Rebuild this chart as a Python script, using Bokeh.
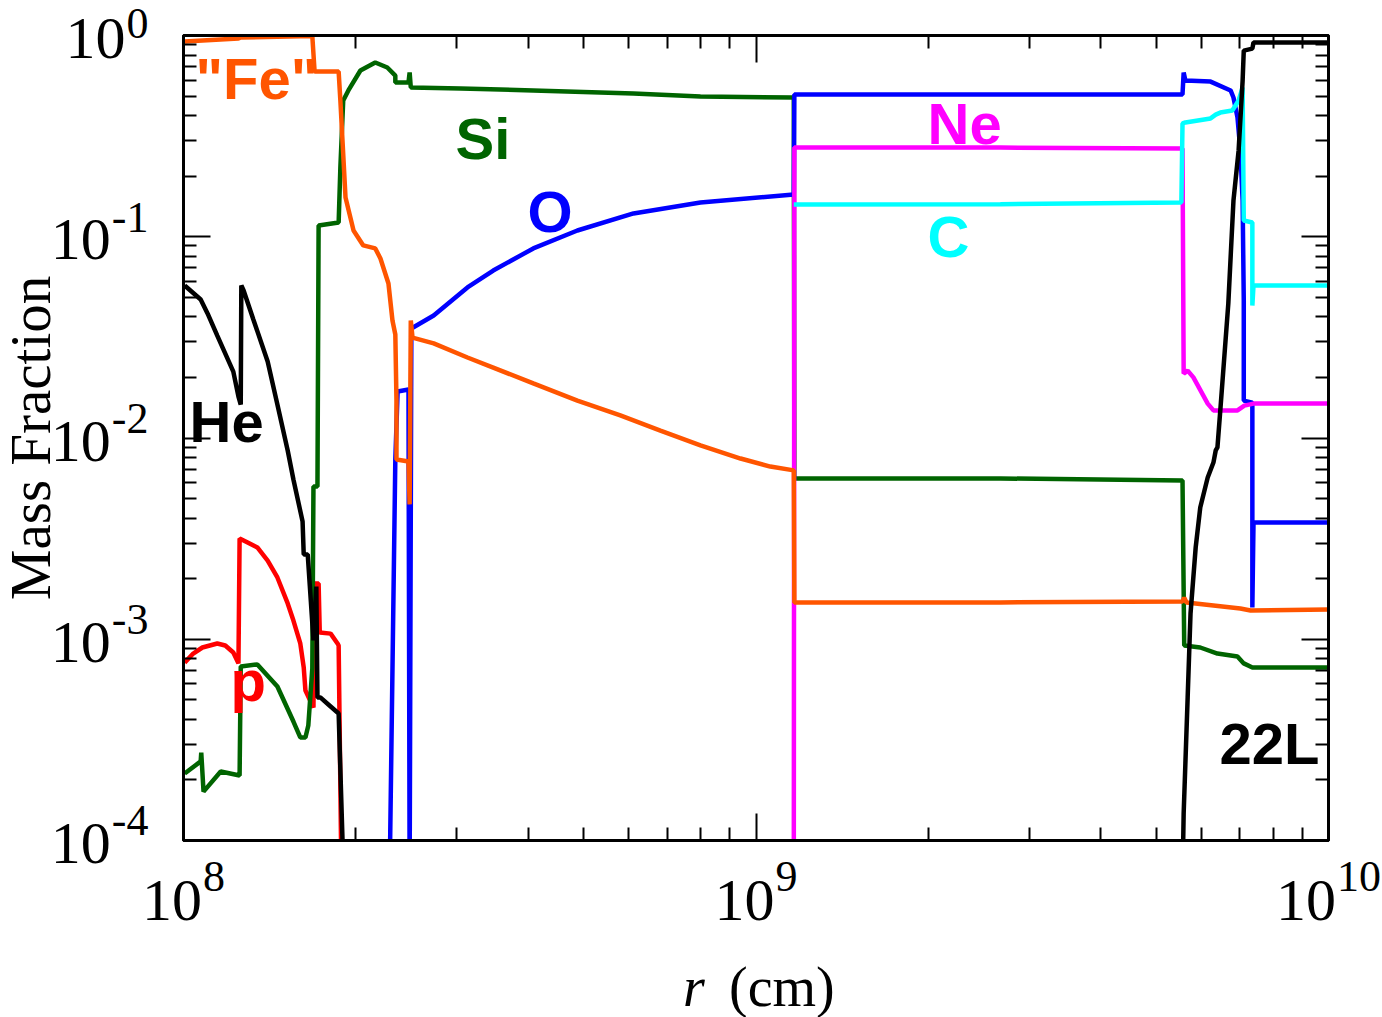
import math
import numpy as np
from bokeh.plotting import figure
from bokeh.models import Range1d, FixedTicker, LogAxis, Label, CustomJSTickFormatter
from bokeh.core.properties import value
from bokeh.embed import file_html
from bokeh.resources import INLINE

nan = float("nan")

# Composition profile: log10 of radius (cm) and log10 of mass fraction per species
he_log_r = [8.002, 8.030, 8.042, 8.059, 8.087, 8.096, 8.100, 8.101, 8.105, 8.122, 8.147,
            8.164, 8.182, 8.192, 8.208, 8.210, 8.217, 8.227, 8.232, 8.234, 8.239, 8.253,
            8.271, 8.281, nan, 9.745, 9.747, 9.754, 9.759, 9.768, 9.776, 9.789, 9.799,
            9.803, 9.806, 9.811, 9.825, 9.834, 9.843, 9.850, 9.852, 9.867, 9.869, 10.000]
he_log_x = [-1.242, -1.312, -1.381, -1.491, -1.670, -1.794, -1.834, -1.242, -1.267, -1.411,
            -1.620, -1.834, -2.062, -2.206, -2.415, -2.579, -2.579, -3.006, -2.738, -3.289,
            -3.289, -3.324, -3.369, -4.3, nan, -4.2, -3.866, -3.289, -2.872, -2.544, -2.345,
            -2.196, -2.122, -2.062, -2.047, -1.863, -1.332, -0.820, -0.571, -0.224, -0.075,
            -0.065, -0.035, -0.035]

p_log_r = [8.002, 8.017, 8.033, 8.059, 8.073, 8.087, 8.096, 8.098, 8.112, 8.129, 8.147,
           8.164, 8.182, 8.192, 8.204, 8.210, 8.213, 8.227, 8.229, 8.236, 8.238, 8.257,
           8.269, 8.271, 8.276]
p_log_x = [-3.116, -3.071, -3.041, -3.021, -3.031, -3.066, -3.120, -2.499, -2.519, -2.544,
           -2.609, -2.693, -2.822, -2.907, -3.021, -3.140, -3.255, -3.339, -2.723, -2.723,
           -2.966, -2.972, -3.021, -3.031, -4.2]

fe_log_r = [8.002, 8.096, 8.100, 8.225, 8.229, 8.271, 8.274, 8.278, 8.283, 8.297, 8.314,
            8.335, 8.344, 8.358, 8.365, 8.370, 8.372, 8.372, 8.393, 8.395, 8.397, 8.400,
            8.437, 8.496, 8.541, 8.611, 8.688, 8.763, 8.833, 8.903, 8.973, 9.025, 9.066,
            9.067, 9.427, 9.745, 9.748, 9.752, 9.846, 9.864, 10.000]
fe_log_x = [-0.030, -0.015, -0.010, -0.003, -0.179, -0.179, -0.323, -0.537, -0.805, -0.969,
            -1.043, -1.058, -1.108, -1.232, -1.416, -1.486, -1.814, -2.107, -2.117, -2.330,
            -1.416, -1.501, -1.530, -1.600, -1.650, -1.729, -1.814, -1.888, -1.963, -2.037,
            -2.102, -2.142, -2.161, -2.817, -2.817, -2.812, -2.793, -2.817, -2.847, -2.857,
            -2.852]

si_log_r = [8.002, 8.030, 8.031, 8.035, 8.065, 8.098, 8.100, 8.129, 8.164, 8.192, 8.204,
            8.213, 8.218, 8.225, 8.227, 8.234, 8.236, 8.271, 8.274, 8.279, 8.288, 8.309,
            8.335, 8.356, 8.370, 8.370, 8.393, 8.395, 8.397, 8.484, 8.611, 8.786, 8.903,
            9.066, 9.067, 9.427, 9.745, 9.748, 9.776, 9.806, 9.841, 9.852, 9.867, 10.000]
si_log_x = [-3.667, -3.607, -3.563, -3.757, -3.657, -3.677, -3.135, -3.125, -3.235, -3.409,
            -3.488, -3.488, -3.429, -3.145, -2.241, -2.241, -0.944, -0.929, -0.656, -0.323,
            -0.273, -0.174, -0.134, -0.159, -0.199, -0.234, -0.234, -0.184, -0.258, -0.263,
            -0.273, -0.288, -0.303, -0.308, -2.201, -2.201, -2.211, -3.031, -3.041, -3.071,
            -3.086, -3.120, -3.140, -3.140]

o_log_r = [8.360, 8.370, 8.374, 8.393, 8.395, 8.398, 8.437, 8.496, 8.541, 8.611, 8.688,
           8.786, 8.903, 9.066, 9.067, 9.745, 9.747, 9.750, 9.794, 9.829, 9.834, 9.841,
           9.846, 9.850, 9.852, 9.852, 9.867, 9.867, 9.869, 10.000]
o_log_x = [-4.2, -2.107, -1.769, -1.759, -4.2, -1.456, -1.391, -1.252, -1.168, -1.058,
           -0.969, -0.884, -0.830, -0.790, -0.293, -0.293, -0.184, -0.224, -0.229, -0.273,
           -0.308, -0.407, -0.571, -0.820, -1.317, -1.814, -1.824, -2.842, -2.420, -2.420]

ne_log_r = [9.066, 9.067, 9.427, 9.745, 9.747, 9.754, 9.764, 9.789, 9.799, 9.841, 9.853,
            9.869, 10.000]
ne_log_x = [-4.2, -0.557, -0.557, -0.561, -1.680, -1.665, -1.699, -1.829, -1.863, -1.863,
            -1.839, -1.829, -1.829]

c_log_r = [9.066, 9.427, 9.743, 9.745, 9.750, 9.794, 9.803, 9.811, 9.832, 9.843, 9.850,
           9.852, 9.867, 9.867, 9.869, 10.000]
c_log_x = [-0.840, -0.838, -0.830, -0.437, -0.432, -0.412, -0.393, -0.383, -0.373, -0.323,
           -0.258, -0.919, -0.929, -1.342, -1.242, -1.242]

x_tick_exponents = [8, 9, 10]
y_tick_exponents = [0, -1, -2, -3, -4]

FE, SI, O, NE, C, P, BLACK = "#FF5500", "#006400", "#0000FF", "#FF00FF", "#00FFFF", "#FF0000", "#000000"

W, H = 1382, 1017
BL, BR, BT, BB = 183, 54, 35, 177          # borders around the frame
FW, FH = W - BL - BR, H - BT - BB          # frame size in pixels
LOG_X0, LOG_X1 = 8, 10
LOG_Y0, LOG_Y1 = -4, 0

p = figure(width=W, height=H, x_axis_type="log", y_axis_type="log",
           x_range=Range1d(10.0 ** LOG_X0, 10.0 ** LOG_X1),
           y_range=Range1d(10.0 ** LOG_Y0, 10.0 ** LOG_Y1),
           output_backend="svg", toolbar_location=None,
           min_border_left=BL, min_border_right=BR, min_border_top=BT, min_border_bottom=BB)
p.grid.visible = False
p.background_fill_color = "white"
p.border_fill_color = "white"
p.outline_line_color = "black"
p.outline_line_width = 3

p.add_layout(LogAxis(), "above")
p.add_layout(LogAxis(), "right")

x_major = [10.0 ** e for e in range(LOG_X0, LOG_X1 + 1)]
x_minor = [m * 10.0 ** e for e in range(LOG_X0, LOG_X1) for m in range(2, 10)]
y_major = [10.0 ** e for e in range(LOG_Y0, LOG_Y1 + 1)]
y_minor = [m * 10.0 ** e for e in range(LOG_Y0, LOG_Y1) for m in range(2, 10)]
blank = CustomJSTickFormatter(code="return ''")

for ax in p.xaxis:
    ax.ticker = FixedTicker(ticks=x_major, minor_ticks=x_minor)
for ax in p.yaxis:
    ax.ticker = FixedTicker(ticks=y_major, minor_ticks=y_minor)
for ax in p.xaxis + p.yaxis:
    ax.formatter = blank
    ax.major_tick_in = 27
    ax.major_tick_out = 0
    ax.minor_tick_in = 13
    ax.minor_tick_out = 0
    ax.major_tick_line_width = 2
    ax.minor_tick_line_width = 2
    ax.major_tick_line_color = "black"
    ax.minor_tick_line_color = "black"
    ax.axis_line_width = 3
    ax.axis_line_color = "black"
    ax.major_label_standoff = 0


def curve(log_r, log_x, color):
    r = 10.0 ** np.asarray(log_r, dtype=float)
    x = 10.0 ** np.asarray(log_x, dtype=float)
    p.line(r, x, line_color=color, line_width=4.5)


curve(p_log_r, p_log_x, P)
curve(si_log_r, si_log_x, SI)
curve(o_log_r, o_log_x, O)
curve(ne_log_r, ne_log_x, NE)
curve(c_log_r, c_log_x, C)
curve(fe_log_r, fe_log_x, FE)
curve(he_log_r, he_log_x, BLACK)

DROP = 0.38      # baseline correction, as a fraction of the font size
ASCENT = 0.891   # serif font ascent, as a fraction of the font size


def put(text, sx, sy, size, font, color="black", align="left", style="normal"):
    """Text inside the frame, in screen units from the frame's lower-left corner."""
    p.add_layout(Label(x=sx, y=sy + DROP * size, x_units="screen", y_units="screen",
                       text=text, text_font=font, text_font_size=f"{size}px",
                       text_font_style=style, text_color=color, text_align=align,
                       text_baseline="alphabetic"))


def put_outside(text, xd, yd, dx, dy_up, size, font, align="left", style="normal", angle=0.0):
    """Text around the frame, anchored at a data point and shifted in pixels."""
    cx, cy = 0.0, DROP * size
    if angle:
        cx, cy = -DROP * size, 0.0
    p.text(x=[xd], y=[yd], text=[text], x_offset=dx + cx, y_offset=-(dy_up + cy),
           text_font=value(font), text_font_size=value(f"{size}px"),
           text_font_style=value(style), text_color="black", text_align=value(align),
           text_baseline=value("alphabetic"), angle=angle, level="overlay")


# Species names inside the frame (left edge, baseline)
SANS = "Liberation Sans"
species = [
    ('"Fe"', 195, 100, FE),
    ("Si", 455, 160, SI),
    ("O", 527, 233, O),
    ("Ne", 927, 145, NE),
    ("C", 927, 258, C),
    ("He", 189, 443, BLACK),
    ("p", 230, 702, P),
    ("22L", 1219, 765, BLACK),
]
for text, px, py, col in species:
    put(text, px - BL, (H - BB) - py, 58, SANS, color=col, style="bold")

# Power-of-ten tick labels
SERIF = "Liberation Serif"
BASE, EXP = 60, 44


def advance(s, size):
    return sum(0.333 if ch == "-" else 0.5 for ch in s) * size


for e in x_tick_exponents:
    es = str(e)
    bw, ew = advance("10", BASE), advance(es, EXP)
    left = -(bw + ew + 1) / 2
    put_outside("10", 10.0 ** e, 10.0 ** LOG_Y0, left, -83, BASE, SERIF)
    put_outside(es, 10.0 ** e, 10.0 ** LOG_Y0, left + bw + 1, -53, EXP, SERIF)

for e in y_tick_exponents:
    es = str(e)
    ew = advance(es, EXP)
    # keep the exponent's text box inside the page at the top tick
    tick_from_top = BT + (LOG_Y1 - e) * FH / (LOG_Y1 - LOG_Y0)
    rise = min(3, tick_from_top - ASCENT * EXP - 1)
    put_outside(es, 10.0 ** LOG_X0, 10.0 ** e, -35, rise, EXP, SERIF, align="right")
    put_outside("10", 10.0 ** LOG_X0, 10.0 ** e, -35 - ew - 1, -26, BASE, SERIF, align="right")

# Axis titles
put_outside("Mass Fraction", 10.0 ** LOG_X0, 10.0 ** ((LOG_Y0 + LOG_Y1) / 2), -131, 0, 57,
            SERIF, align="center", angle=math.pi / 2)
put_outside("r", 10.0 ** 9, 10.0 ** LOG_Y0, -73, -168, 56, SERIF, style="italic")
put_outside("(cm)", 10.0 ** 9, 10.0 ** LOG_Y0, -27, -168, 56, SERIF)

open("out.html", "w").write(file_html(p, INLINE))
